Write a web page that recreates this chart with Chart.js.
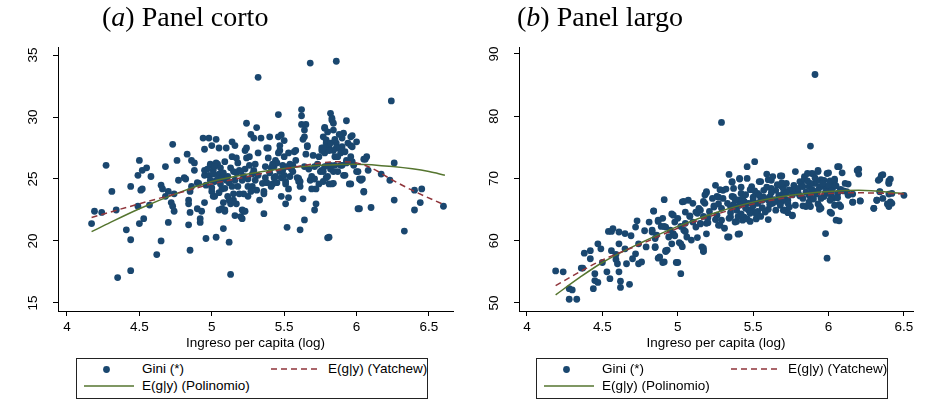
<!DOCTYPE html>
<html lang="es">
  <head>
    <meta charset="UTF-8" />
    <title>Gini e ingreso per capita</title>
    <script src="https://cdn.jsdelivr.net/npm/chart.js"></script>
    <style>
      body {
        margin: 0;
        background: #fff;
        font-family: Arial, "Liberation Sans", sans-serif;
      }
      #pagina {
        position: relative;
        width: 926px;
        height: 402px;
        overflow: hidden;
      }
      .panel {
        position: absolute;
        top: 0;
        width: 463px;
        height: 402px;
      }
      .titulo {
        position: absolute;
        top: 3px;
        font-family: "Liberation Serif", "Times New Roman", serif;
        font-size: 28px;
        line-height: 28px;
        white-space: nowrap;
        color: #000;
      }
      .leyenda {
        position: absolute;
        top: 358px;
        width: 350px;
        height: 39px;
        border: 1px solid #222;
        background: #fff;
        font-size: 13.5px;
        color: #000;
      }
      .leyenda span,
      .leyenda svg {
        position: absolute;
        white-space: nowrap;
      }
    </style>
  </head>

  <body>
    <div id="pagina">
      <div class="panel" style="left: 0"><canvas id="corto" width="463" height="402"></canvas></div>
      <div class="panel" style="left: 463px"><canvas id="largo" width="463" height="402"></canvas></div>

      <div class="titulo" style="left: 102px">(<i>a</i>) Panel corto</div>
      <div class="titulo" style="left: 517px">(<i>b</i>) Panel largo</div>

      <div class="leyenda" style="left: 76px"></div>
      <div class="leyenda" style="left: 536px"></div>
    </div>

    <script>
      // ---- datos: panel corto ----
      const puntosCorto = [
        [4.17,21.4],[4.19,22.4],[4.24,22.3],[4.27,26.1],[4.31,24.0],[4.34,22.5],[4.35,17.05],[4.41,20.9],[4.44,17.6],[4.44,20.1],[4.44,24.4],
        [4.50,26.5],[4.49,25.3],[4.49,22.8],[4.50,21.4],[4.51,24.1],[4.52,24.2],[4.53,21.8],[4.52,25.7],[4.55,25.9],[4.57,22.9],[4.58,25.2],
        [4.62,18.9],[4.65,24.5],[4.65,20.0],[4.66,24.2],[4.68,26.0],[4.68,23.6],[4.70,24.0],[4.70,21.5],[4.73,27.8],[4.72,23.1],[4.73,22.8],
        [4.74,23.8],[4.74,22.4],[4.76,26.5],[4.77,24.9],[4.81,25.1],[4.82,25.0],[4.83,27.0],[4.84,21.3],[4.84,23.0],[4.84,23.3],[4.85,22.3],
        [4.85,19.25],[4.85,24.0],[4.86,26.5],[4.86,24.4],[4.88,26.3],[4.88,25.7],[4.90,24.7],[4.90,22.6],[4.92,21.5],[4.92,21.8],[4.93,22.4],
        [4.94,28.3],[4.95,27.4],[4.95,25.3],[4.95,25.7],[4.95,23.1],[4.96,20.2],[4.96,24.5],[4.98,28.3],[4.99,26.2],[5.00,27.7],[5.00,24.0],
        [4.91,24.65],[4.98,25.3],[4.99,26.1],[5.01,25.7],[5.03,26.3],[5.05,25.4],[5.07,25.1],[5.02,24.8],[5.00,24.3],[5.01,23.6],[5.03,28.2],
        [5.05,27.5],[5.01,25.4],[5.02,23.6],[5.03,20.3],[5.04,26.2],[5.05,22.5],[5.06,24.6],[5.07,24.2],[5.08,21.0],[5.08,23.1],[5.09,22.5],
        [5.10,27.5],[5.11,23.6],[5.12,19.9],[5.13,17.3],[5.12,24.7],[5.13,25.9],[5.14,28.0],[5.14,26.8],[5.15,23.8],[5.16,22.05],[5.16,27.7],
        [5.17,26.7],[5.17,23.0],[5.18,24.4],[5.19,25.7],[5.09,24.25],[5.10,24.9],[5.07,22.6],[5.09,22.4],[5.13,23.0],[5.15,23.3],[5.17,25.5],
        [5.20,25.6],[5.22,25.2],[5.23,27.3],[5.24,26.7],[5.26,26.1],[5.28,24.4],[5.25,23.6],[5.22,22.4],[5.20,21.96],[5.21,22.5],[5.21,21.8],
        [5.22,23.8],[5.23,22.4],[5.24,29.5],[5.24,27.5],[5.25,24.4],[5.26,26.8],[5.27,28.6],[5.28,25.4],[5.29,28.3],[5.30,26.2],[5.31,29.15],
        [5.31,24.1],[5.32,33.2],[5.32,27.1],[5.33,23.3],[5.34,28.3],[5.36,22.2],[5.36,23.8],[5.37,25.1],[5.38,27.5],[5.39,26.7],[5.40,28.4],
        [5.41,24.4],[5.41,25.9],[5.42,24.6],[5.43,25.1],[5.44,26.5],[5.46,30.2],[5.46,28.4],[5.47,27.3],[5.48,23.6],[5.48,25.1],[5.49,26.1],
        [5.50,28.1],[5.50,26.8],[5.51,24.6],[5.51,23.0],[5.52,21.1],[5.53,23.5],[5.54,26.2],[5.30,24.9],[5.32,25.3],[5.35,24.65],[5.36,24.0],
        [5.37,26.0],[5.39,27.5],[5.43,26.0],[5.44,25.2],[5.45,26.3],[5.46,27.1],[5.47,27.7],[5.48,28.55],[5.49,25.7],[5.52,26.0],[5.53,27.1],
        [5.51,24.8],[5.54,25.2],[5.56,26.1],[5.58,27.3],[5.60,25.05],[5.61,24.8],[5.64,26.0],[5.64,28.4],[5.66,27.7],[5.68,24.9],[5.69,25.2],
        [5.71,26.0],[5.72,24.2],[5.74,26.8],[5.76,27.5],[5.77,25.6],[5.79,27.9],[5.78,27.1],[5.80,26.1],[5.56,25.6],[5.57,27.2],[5.59,25.1],
        [5.60,24.8],[5.61,24.4],[5.61,20.9],[5.62,30.6],[5.62,30.1],[5.62,29.4],[5.63,28.2],[5.63,23.4],[5.64,21.7],[5.64,28.95],[5.65,27.0],
        [5.65,29.4],[5.66,27.6],[5.67,25.8],[5.68,34.35],[5.69,24.2],[5.70,26.9],[5.71,25.0],[5.71,22.5],[5.72,23.0],[5.73,26.2],[5.74,24.6],
        [5.75,25.6],[5.76,27.3],[5.77,28.4],[5.78,29.1],[5.79,25.1],[5.80,20.25],[5.81,27.6],[5.82,25.8],[5.82,30.3],[5.83,29.75],[5.83,24.6],
        [5.84,28.95],[5.85,26.8],[5.86,34.5],[5.86,27.9],[5.87,25.6],[5.88,27.5],[5.90,26.1],[5.91,28.7],[5.91,25.3],[5.93,29.7],[5.93,26.5],
        [5.95,24.6],[5.96,28.4],[5.97,27.6],[5.98,26.1],[6.00,28.0],[6.00,25.6],[6.01,22.6],[6.03,24.9],[6.05,24.0],[6.06,26.6],[6.07,26.8],
        [6.08,25.7],[6.10,22.7],[6.17,25.4],[6.23,24.9],[6.24,31.3],[6.26,23.3],[6.26,26.3],[6.33,20.8],[6.40,24.1],[6.40,22.5],[6.44,23.1],
        [6.45,24.2],[6.60,22.8],[5.83,29.9],[5.84,29.5],[5.78,29.16],[5.90,28.3],[5.97,28.5],[5.96,27.7],[5.79,28.15],[5.82,27.9],[5.85,28.2],
        [5.86,27.5],[5.84,27.3],[5.81,27.3],[5.77,27.5],[5.89,27.1],[5.92,27.2],[5.96,26.8],[5.97,26.4],[5.93,26.3],[5.89,26.1],[5.85,26.1],
        [5.82,26.1],[5.78,26.0],[5.76,25.7],[5.80,25.2],[5.77,24.8],[5.81,24.6],[5.84,25.6],[5.84,24.65],[5.92,25.3],[5.96,24.6],[6.01,25.6],
        [6.02,25.0],[6.04,25.0],[6.05,26.6],[6.05,23.95],[6.02,22.6],[5.81,20.3],
        [4.97,25.8],[4.99,24.9],[5.02,26.0],[5.04,25.0],[5.05,23.9],[5.06,25.9],[5.08,25.5],[5.09,26.4],[5.11,25.2],[5.12,23.3],[5.14,24.4],
        [5.15,25.6],[5.16,24.9],[5.18,26.3],[5.19,23.8],[5.21,24.9],[5.23,25.8],[5.25,25.0],[5.27,24.0],[5.29,25.7],[5.38,24.7],[5.40,25.5],
        [5.42,26.2],[5.45,24.7],[5.47,25.6],[5.50,25.3],[5.53,24.2],[5.55,25.8],[5.58,26.5],[5.87,26.8],[5.90,27.6],[5.94,27.9],[5.88,28.6],
        [5.80,28.8]
      ];
      const curvaCortoX = [4.17, 4.3, 4.5, 4.75, 5.0, 5.25, 5.5, 5.75, 6.0, 6.25, 6.5, 6.61];
      const polinomioCorto = [20.75, 21.5, 22.6, 23.8, 24.8, 25.4, 25.85, 26.1, 26.2, 26.0, 25.6, 25.3];
      const yatchewCortoX = [4.17, 4.5, 4.75, 5.0, 5.25, 5.5, 5.75, 5.9, 6.0, 6.1, 6.25, 6.4, 6.61];
      const yatchewCorto = [21.9, 23.0, 23.8, 24.6, 25.2, 25.8, 26.3, 26.4, 26.3, 25.9, 24.9, 24.0, 22.9];
      const ticksCortoX = [4, 4.5, 5, 5.5, 6, 6.5];
      const ticksCortoY = [15, 20, 25, 30, 35];

      // ---- datos: panel largo ----
      const puntosLargo = [
        [4.19,55.15],[4.24,55.0],[4.28,50.6],[4.28,52.3],[4.30,52.1],[4.33,50.6],[4.36,55.6],[4.37,55.6],[4.38,58.0],[4.42,58.4],[4.42,57.1],
        [4.44,52.3],[4.45,54.7],[4.45,53.6],[4.47,53.3],[4.47,59.5],[4.49,58.7],[4.50,56.5],[4.53,55.0],[4.54,61.5],[4.55,53.9],[4.56,61.5],
        [4.57,61.95],[4.56,58.4],[4.59,57.8],[4.59,57.0],[4.60,56.3],[4.61,61.4],[4.61,59.5],[4.61,55.0],[4.62,52.5],[4.62,53.5],[4.65,61.15],
        [4.65,58.7],[4.66,56.3],[4.68,53.0],[4.69,60.8],[4.70,57.1],[4.72,57.9],[4.72,62.2],[4.73,63.2],[4.74,59.5],[4.74,56.3],[4.76,56.6],
        [4.78,61.6],[4.79,59.0],[4.81,63.0],[4.83,61.4],[4.84,64.75],[4.85,60.35],[4.85,58.9],[4.87,57.2],[4.87,63.3],[4.89,62.3],[4.91,56.6],
        [4.91,66.6],[4.92,58.4],[4.92,62.2],[4.93,58.5],[4.94,60.6],[4.96,64.3],[4.97,61.15],[4.98,63.0],[4.99,56.5],[5.00,63.6],[5.02,59.5],
        [5.02,54.7],[5.03,66.25],[5.04,61.7],[5.05,62.8],[5.07,66.5],[5.08,63.9],[5.09,60.1],[5.10,66.0],[5.12,64.6],[5.13,60.5],[5.14,65.2],
        [5.15,62.8],[5.16,59.0],[5.17,58.4],[5.18,66.0],[5.19,67.7],[5.19,61.1],[5.19,62.8],[5.20,63.7],[5.24,65.4],[5.25,68.9],[5.27,67.0],
        [5.28,62.5],[5.29,79.0],[5.30,68.1],[5.31,62.0],[5.33,66.0],[5.33,60.6],[5.34,70.65],[5.35,63.8],[5.36,69.4],[5.37,67.05],[5.38,63.0],
        [5.39,65.4],[5.40,61.05],[5.41,70.0],[5.42,67.6],[5.44,63.8],[5.45,66.0],[5.46,71.9],[5.46,70.0],[5.47,64.9],[5.49,68.7],[5.50,66.5],
        [5.51,72.7],[5.52,63.5],[5.53,67.6],[5.55,69.5],[5.56,66.5],[5.57,68.1],[5.59,70.7],[5.60,63.4],[5.61,67.05],[5.62,69.7],[5.63,66.0],
        [5.65,68.1],[5.68,70.4],[5.69,68.7],[5.70,67.6],[5.71,64.9],[5.73,66.5],[5.76,64.1],[5.77,68.2],[5.78,71.1],[5.80,67.6],[5.82,69.2],
        [5.83,66.8],[5.84,70.3],[5.85,65.5],[5.87,68.7],[5.88,75.2],[5.88,67.0],[5.89,70.8],[5.91,86.7],[5.91,69.2],[5.92,67.6],[5.93,71.1],
        [5.94,65.5],[5.95,69.8],[5.97,68.7],[5.98,61.15],[5.99,57.2],[5.99,70.8],[6.00,67.6],[6.01,64.6],[6.02,69.2],[6.03,66.8],[6.04,69.6],
        [6.05,63.3],[6.06,71.9],[6.07,65.8],[6.08,68.1],[6.09,70.9],[6.11,69.2],[6.13,67.3],[6.16,66.2],[6.19,71.3],[6.20,70.7],[6.21,66.4],
        [6.30,65.2],[6.32,66.5],[6.33,69.7],[6.34,67.85],[6.35,70.5],[6.36,66.8],[6.39,65.9],[6.40,69.6],[6.40,69.2],[6.41,66.25],[6.42,67.6],
        [6.50,67.3],[5.36,69.5],[5.41,69.9],[5.54,69.5],[5.60,69.8],[5.63,70.3],[5.66,69.0],[5.28,68.2],[5.32,68.3],[5.37,68.4],[5.42,68.6],
        [5.48,68.2],[5.62,68.4],[5.70,68.7],[5.19,67.9],[5.18,67.35],[5.26,67.1],[5.30,66.8],[5.36,67.1],[5.40,66.55],[5.43,66.8],[5.50,67.0],
        [5.55,66.55],[5.60,66.55],[5.66,66.3],[5.72,66.55],[5.04,66.3],[5.17,66.3],[5.24,65.6],[5.29,65.2],[5.35,65.5],[5.39,64.9],[5.45,65.2],
        [5.49,64.9],[5.53,64.7],[5.60,65.05],[5.70,64.9],[4.84,64.8],[4.90,63.6],[4.97,64.1],[5.08,64.0],[5.13,64.4],[5.17,63.9],[5.26,64.1],
        [5.29,63.3],[5.34,63.6],[5.39,63.1],[5.43,63.3],[5.48,63.1],[5.15,62.7],[5.20,62.9],[5.27,62.5],[5.34,60.6],[5.41,61.1],[4.87,63.1],
        [4.91,62.3],[4.83,61.7],[4.86,60.9],[4.95,61.7],[4.98,60.8],[5.02,62.3],[5.05,61.5],[5.06,60.6],[4.96,59.5],[5.01,59.7],[5.03,59.05],
        [4.85,59.05],[4.92,58.25],[4.88,57.4],[4.90,56.5],[5.17,58.8],[5.17,58.25],[5.00,56.5],[5.69,70.4],[5.86,70.8],[5.90,70.7],[5.93,71.3],
        [6.00,70.9],[6.07,71.9],[6.20,71.5],[6.34,69.9],[6.36,70.6],[6.41,69.9],[6.40,69.3],[5.72,69.2],[5.77,68.9],[5.81,69.5],[5.84,69.9],
        [5.88,69.2],[5.92,69.6],[5.97,69.7],[6.01,69.6],[6.04,69.9],[6.13,69.1],[5.70,68.4],[5.74,68.15],[5.80,68.4],[5.83,68.7],[5.89,68.25],
        [5.94,68.6],[5.99,68.4],[6.03,68.6],[6.08,68.25],[5.70,67.1],[5.76,67.35],[5.81,67.2],[5.87,67.35],[5.92,67.5],[5.97,67.1],[6.02,67.1],
        [6.06,67.6],[6.13,67.5],[6.16,67.5],[6.34,67.9],[6.40,67.5],[5.69,66.3],[5.73,66.0],[5.78,65.7],[5.83,65.6],[5.88,65.5],[5.93,65.9],
        [5.95,65.2],[6.01,66.5],[6.04,65.7],[6.08,65.5],[5.71,64.9],[5.73,64.5],[5.76,64.0],[5.94,65.05],[6.02,64.4],[6.07,63.2],[6.16,66.2],
        [6.21,66.4],[6.30,65.2],[6.32,66.5],[6.40,65.5],[6.42,66.0],
        [5.35,64.5],[5.37,65.8],[5.38,66.6],[5.40,63.9],[5.41,65.7],[5.42,64.3],[5.44,66.3],[5.45,67.4],[5.46,63.5],[5.47,66.0],[5.48,64.4],
        [5.50,65.6],[5.51,68.0],[5.52,64.3],[5.53,66.0],[5.54,67.3],[5.55,63.9],[5.56,65.3],[5.57,67.0],[5.58,64.6],[5.59,68.6],[5.61,65.8],
        [5.62,67.7],[5.64,66.6],[5.65,64.9],[5.67,67.3],[5.68,65.7],[5.69,69.3],[5.72,67.7],[5.74,65.4],[5.85,67.8],[5.86,69.6],[5.87,66.2],
        [5.89,68.0],[5.90,66.7],[5.91,70.1],[5.93,68.1],[5.95,66.8],[5.96,69.2],[5.98,67.8],[6.00,68.9],[6.02,68.0],[6.05,68.8],[6.06,66.9],
        [6.10,68.0],[6.12,67.9],[5.05,64.6],[5.10,63.0],[5.12,62.2],[5.15,64.9],[5.21,64.7],[5.23,66.8],[5.25,63.4],[5.27,65.9]
      ];
      const curvaLargoX = [4.19, 4.35, 4.5, 4.75, 5.0, 5.25, 5.5, 5.75, 6.0, 6.2, 6.5];
      const polinomioLargo = [51.3, 54.1, 56.5, 59.6, 62.3, 64.5, 66.2, 67.3, 67.9, 68.1, 67.6];
      const yatchewLargo = [52.8, 55.0, 56.9, 59.4, 62.0, 64.2, 65.9, 67.0, 67.6, 67.7, 67.5];
      const ticksLargoX = [4, 4.5, 5, 5.5, 6, 6.5];
      const ticksLargoY = [50, 60, 70, 80, 90];

      const AZUL = "#1a476f";
      const GRANATE = "#90353b";
      const VERDE = "#55752f";

      Chart.defaults.font.family = 'Arial, "Liberation Sans", sans-serif';
      Chart.defaults.font.size = 13.5;
      Chart.defaults.color = "#000";

      // etiquetas del eje y giradas (como en Stata)
      const etiquetasY = {
        id: "etiquetasY",
        afterDraw(chart) {
          const s = chart.scales.y;
          const ctx = chart.ctx;
          ctx.save();
          ctx.font = '13.5px Arial, "Liberation Sans", sans-serif';
          ctx.fillStyle = "#000";
          ctx.textAlign = "center";
          ctx.textBaseline = "middle";
          s.ticks.forEach((t) => {
            ctx.save();
            ctx.translate(chart.chartArea.left - 25, s.getPixelForValue(t.value));
            ctx.rotate(-Math.PI / 2);
            ctx.fillText(String(t.value), 0, 0);
            ctx.restore();
          });
          ctx.restore();
        },
      };

      function curva(xs, ys) {
        return xs.map((x, i) => ({ x: x, y: ys[i] }));
      }

      function panel(id, cfg) {
        new Chart(document.getElementById(id), {
          type: "scatter",
          data: {
            datasets: [
              {
                type: "line",
                data: curva(cfg.yatX, cfg.yat),
                borderColor: GRANATE,
                borderWidth: 1.5,
                borderDash: [6, 4],
                pointRadius: 0,
                cubicInterpolationMode: "monotone",
                order: 1,
              },
              {
                type: "line",
                data: curva(cfg.polX, cfg.pol),
                borderColor: VERDE,
                borderWidth: 1.5,
                pointRadius: 0,
                cubicInterpolationMode: "monotone",
                order: 2,
              },
              {
                data: cfg.puntos.map((p) => ({ x: p[0], y: p[1] })),
                backgroundColor: AZUL,
                borderWidth: 0,
                pointRadius: 3.4,
                order: 3,
              },
            ],
          },
          options: {
            responsive: false,
            animation: false,
            layout: { padding: { left: 0, right: cfg.padDer, top: 47, bottom: 51 } },
            plugins: { legend: { display: false }, tooltip: { enabled: false } },
            scales: {
              x: {
                type: "linear",
                min: cfg.xMin,
                max: cfg.xMax,
                afterBuildTicks: (s) => { s.ticks = cfg.ticksX.map((v) => ({ value: v })); },
                afterFit: (s) => { s.height = 40; },
                ticks: { padding: 3, callback: (v) => String(v) },
                grid: { drawOnChartArea: false, color: "#000", tickLength: 5 },
                border: { color: "#000" },
                title: { display: true, text: "Ingreso per capita (log)", padding: 0 },
              },
              y: {
                type: "linear",
                min: cfg.yMin,
                max: cfg.yMax,
                afterBuildTicks: (s) => { s.ticks = cfg.ticksY.map((v) => ({ value: v })); },
                afterFit: (s) => { s.width = cfg.anchoY; },
                ticks: { callback: () => "" },
                grid: { drawOnChartArea: false, color: "#000", tickLength: 5 },
                border: { color: "#000" },
              },
            },
          },
          plugins: [etiquetasY],
        });
      }

      panel("corto", {
        puntos: puntosCorto,
        polX: curvaCortoX, pol: polinomioCorto,
        yatX: yatchewCortoX, yat: yatchewCorto,
        ticksX: ticksCortoX, ticksY: ticksCortoY,
        xMin: 3.938, xMax: 6.666, yMin: 14.35, yMax: 35.65,
        anchoY: 58, padDer: 10,
      });

      panel("largo", {
        puntos: puntosLargo,
        polX: curvaLargoX, pol: polinomioLargo,
        yatX: curvaLargoX, yat: yatchewLargo,
        ticksX: ticksLargoX, ticksY: ticksLargoY,
        xMin: 3.947, xMax: 6.56, yMin: 48.71, yMax: 91.12,
        anchoY: 56, padDer: 13,
      });

      // leyendas (HTML, texto real)
      const etiquetas = ["Gini (*)", "E(g|y) (Yatchew)", "E(g|y) (Polinomio)"];
      document.querySelectorAll(".leyenda").forEach((caja) => {
        caja.innerHTML =
          '<svg style="left:25px;top:6px" width="9" height="9"><circle cx="4.5" cy="4.5" r="3.4" fill="' + AZUL + '"/></svg>' +
          '<span style="left:65px;top:2px">' + etiquetas[0] + "</span>" +
          '<svg style="left:194px;top:8px" width="50" height="4"><line x1="0" y1="2" x2="50" y2="2" stroke="' + GRANATE + '" stroke-width="1.5" stroke-dasharray="6 4"/></svg>' +
          '<span style="left:251px;top:2px">' + etiquetas[1] + "</span>" +
          '<svg style="left:7px;top:25px" width="50" height="4"><line x1="0" y1="2" x2="50" y2="2" stroke="' + VERDE + '" stroke-width="1.5"/></svg>' +
          '<span style="left:65px;top:19px">' + etiquetas[2] + "</span>";
      });
    </script>
  </body>
</html>
